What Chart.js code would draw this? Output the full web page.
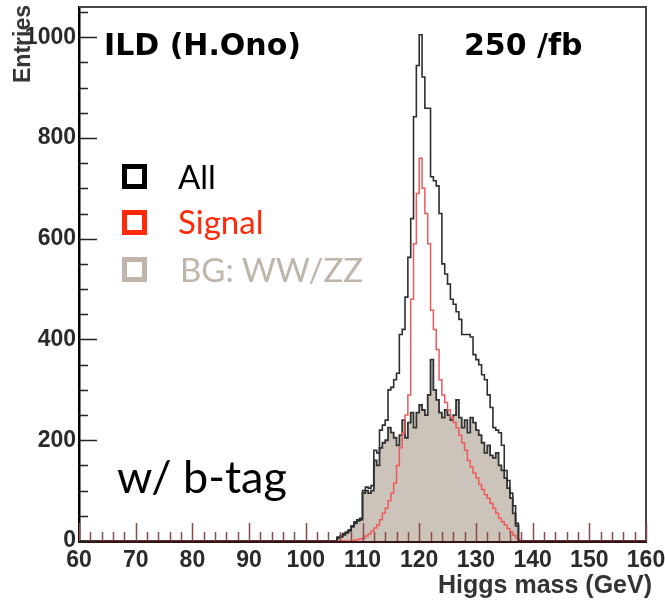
<!DOCTYPE html>
<html>
<head>
<meta charset="utf-8">
<script src="https://cdn.jsdelivr.net/npm/chart.js@4.4.0/dist/chart.umd.min.js"></script>
<style>
    html, body { margin: 0; padding: 0; background: #fff; }
    #wrap { position: relative; width: 665px; height: 602px; }
    #c { position: absolute; left: 0; top: 0; }
    .lbl { position: absolute; white-space: nowrap; line-height: 1; }
    .big { font-family: 'DejaVu Sans', sans-serif; font-weight: bold; font-size: 30px; color: #000; }
    .leg { font-family: Lato, sans-serif; font-size: 33px; }
    .box { position: absolute; width: 15px; height: 15px; border: 5px solid; }
    #entries { font-family: 'Liberation Sans', Arial, sans-serif; font-weight: bold; font-size: 23px; color: #333;
               writing-mode: vertical-rl; transform: rotate(180deg); left: 11px; top: 5px; }
    #xtitle { font-family: 'Liberation Sans', Arial, sans-serif; font-weight: bold; font-size: 25px; color: #333; right: 13px; top: 572px; }
</style>
</head>
<body>
<div id="wrap">
    <canvas id="c" width="665" height="602"></canvas>
    <div class="lbl big" style="left:104px; top:30px;">ILD (H.Ono)</div>
    <div class="lbl big" style="left:464px; top:30px;">250 /fb</div>

    <div class="box" style="left:122px; top:164px; border-color:#000;"></div>
    <div class="lbl leg" style="left:178px; top:160px; color:#000;">All</div>
    <div class="box" style="left:122px; top:210px; border-color:#FF2A0A;"></div>
    <div class="lbl leg" style="left:178px; top:205px; color:#FF2A0A;">Signal</div>
    <div class="box" style="left:122px; top:257px; border-color:#BFB5AA;"></div>
    <div class="lbl leg" style="left:180px; top:253px; color:#BFB5AA;">BG: WW/ZZ</div>

    <div class="lbl" style="left:117px; top:454px; font-family: Lato, sans-serif; font-size: 45px; color:#000;">w/ b-tag</div>

    <div class="lbl" id="entries">Entries</div>
    <div class="lbl" id="xtitle">Higgs mass (GeV)</div>
</div>

<script>
// ── histogram data: 0.5 GeV bins, left edges ──
const massEdges = [
    104.0, 104.5, 105.0, 105.5, 106.0, 106.5, 107.0, 107.5, 108.0, 108.5,
    109.0, 109.5, 110.0, 110.5, 111.0, 111.5, 112.0, 112.5, 113.0, 113.5,
    114.0, 114.5, 115.0, 115.5, 116.0, 116.5, 117.0, 117.5, 118.0, 118.5,
    119.0, 119.5, 120.0, 120.5, 121.0, 121.5, 122.0, 122.5, 123.0, 123.5,
    124.0, 124.5, 125.0, 125.5, 126.0, 126.5, 127.0, 127.5, 128.0, 128.5,
    129.0, 129.5, 130.0, 130.5, 131.0, 131.5, 132.0, 132.5, 133.0, 133.5,
    134.0, 134.5, 135.0, 135.5, 136.0, 136.5, 137.0, 137.5
];

const allEntries = [
    0, 0, 0, 8, 10, 15, 18, 22, 30, 38,
    42, 45, 100, 107, 105, 110, 180, 175, 220, 230,
    240, 300, 305, 320, 333, 410, 420, 484, 563, 640,
    842, 944, 1005, 921, 859, 859, 723, 715, 705, 650,
    550, 530, 510, 480, 470, 455, 440, 410, 410, 410,
    405, 370, 360, 350, 330, 320, 290, 265, 225, 220,
    215, 190, 140, 120, 95, 70, 35, 0
];

const signalEntries = [
    0, 0, 0, 0, 0, 0, 0, 0, 0, 2,
    3, 4, 6, 10, 14, 20, 26, 32, 42, 55,
    65, 80, 95, 115, 150, 185, 215, 250, 290, 480,
    590, 690, 760, 700, 650, 590, 458, 420, 380, 320,
    290, 275, 260, 245, 235, 225, 210, 195, 180, 160,
    147, 135, 125, 112, 102, 92, 85, 75, 65, 55,
    45, 38, 32, 25, 18, 12, 6, 2
];

const bgEntries = [
    0, 0, 0, 6, 8, 12, 16, 20, 28, 35,
    40, 42, 95, 100, 95, 100, 160, 150, 185, 195,
    200, 225, 215, 205, 190, 210, 240, 205, 235, 255,
    225, 255, 270, 260, 250, 290, 360, 300, 280, 255,
    245, 260, 250, 240, 250, 280, 245, 225, 240, 215,
    245, 235, 220, 210, 195, 175, 190, 170, 165, 175,
    150, 140, 125, 105, 85, 55, 30, 0
];

const xTickLabels = [60, 70, 80, 90, 100, 110, 120, 130, 140, 150, 160];
const yTickLabels = [0, 200, 400, 600, 800, 1000];

const X_MIN = 60, X_MAX = 160, Y_MAX = 1060, BIN_W = 0.5;

function histPoints(vals) {
    const pts = [{ x: X_MIN, y: 0 }];
    massEdges.forEach((e, i) => pts.push({ x: e, y: vals[i] }));
    pts.push({ x: massEdges[massEdges.length - 1] + BIN_W, y: 0 });
    pts.push({ x: X_MAX, y: 0 });
    return pts;
}

// frame + inward ticks, ROOT style
const frameTicks = {
    id: 'frameTicks',
    afterDraw(chart) {
        const { ctx, chartArea: a, scales: { x, y } } = chart;
        ctx.save();
        ctx.strokeStyle = '#444';
        ctx.lineWidth = 2;
        ctx.beginPath();
        ctx.moveTo(a.left, a.top);
        ctx.lineTo(a.right, a.top);
        ctx.lineTo(a.right, a.bottom);
        ctx.stroke();

        ctx.strokeStyle = '#222';
        ctx.lineWidth = 1.5;
        ctx.beginPath();
        for (let v = 0; v <= Y_MAX; v += 50) {
            const py = Math.round(y.getPixelForValue(v)) + 0.5;
            const len = v % 200 === 0 ? 18 : 9;
            ctx.moveTo(a.left, py);
            ctx.lineTo(a.left + len, py);
        }
        ctx.stroke();

        ctx.strokeStyle = '#8a4a4a';
        ctx.beginPath();
        for (let v = X_MIN; v <= X_MAX; v += 2) {
            const px = Math.round(x.getPixelForValue(v)) + 0.5;
            const len = v % 10 === 0 ? 18 : 9;
            ctx.moveTo(px, a.bottom);
            ctx.lineTo(px, a.bottom - len);
        }
        ctx.stroke();
        ctx.restore();
    }
};

const tickFont = { family: "'Liberation Sans', Arial, sans-serif", size: 23, weight: 'bold' };

new Chart(document.getElementById('c').getContext('2d'), {
    type: 'line',
    data: {
        datasets: [
            { label: 'All', data: histPoints(allEntries), stepped: true, borderColor: '#2e2e2e', borderWidth: 1.6, pointRadius: 0, fill: false },
            { label: 'Signal', data: histPoints(signalEntries), stepped: true, borderColor: '#EE5A5A', borderWidth: 1.5, pointRadius: 0, fill: false },
            { label: 'BG: WW/ZZ', data: histPoints(bgEntries), stepped: true, borderColor: '#333', borderWidth: 1.8, pointRadius: 0, fill: 'origin', backgroundColor: '#CCC4BA' }
        ]
    },
    options: {
        responsive: false, animation: false, devicePixelRatio: 1,
        layout: { padding: { top: 7, right: 19, left: 0, bottom: 0 } },
        plugins: { legend: { display: false }, tooltip: { enabled: false } },
        scales: {
            x: {
                type: 'linear', min: X_MIN, max: X_MAX,
                afterBuildTicks: s => { s.ticks = xTickLabels.map(v => ({ value: v })); },
                afterFit: s => { s.height = 61; s.paddingLeft = 0; s.paddingRight = 0; },
                grid: { display: false, drawTicks: false },
                border: { display: true, color: '#3a1414', width: 3 },
                ticks: { font: tickFont, color: '#2a2a2a', padding: 6, maxRotation: 0, autoSkip: false, callback: v => String(v) }
            },
            y: {
                min: 0, max: Y_MAX,
                afterBuildTicks: s => { s.ticks = yTickLabels.map(v => ({ value: v })); },
                afterFit: s => { s.width = 79; s.paddingTop = 0; s.paddingBottom = 0; },
                grid: { display: false, drawTicks: false },
                border: { display: true, color: '#000', width: 2.5 },
                ticks: { font: tickFont, color: '#2a2a2a', padding: 3, autoSkip: false, callback: v => String(v) }
            }
        }
    },
    plugins: [frameTicks]
});
</script>
</body>
</html>
